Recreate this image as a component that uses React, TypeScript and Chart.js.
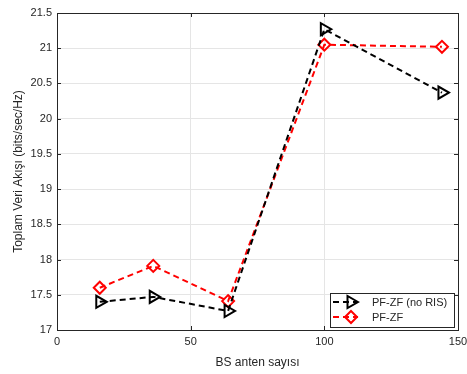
import React, { useEffect, useRef } from "react";
import { Chart, registerables } from "chart.js";

Chart.register(...registerables);

const antennas = [16, 36, 64, 100, 144];
const pfzfNoRis = [17.4, 17.47, 17.27, 21.27, 20.37];
const pfzf = [17.6, 17.91, 17.41, 21.05, 21.02];
const seriesNames = ["PF-ZF (no RIS)", "PF-ZF"];
const yTicks = [17, 17.5, 18, 18.5, 19, 19.5, 20, 20.5, 21, 21.5];
const xTicks = [0, 50, 100, 150];

const FONT = "Liberation Sans, Arial, Helvetica, sans-serif";

const frame = {
  id: "frame",
  beforeDatasetsDraw(chart: any) {
    const { ctx, chartArea: a } = chart;
    ctx.save();
    ctx.strokeStyle = "#262626";
    ctx.lineWidth = 1;
    ctx.strokeRect(Math.round(a.left) + 0.5, Math.round(a.top) + 0.5, Math.round(a.right - a.left), Math.round(a.bottom - a.top));
    const xs = chart.scales.x;
    const ys = chart.scales.y;
    ctx.beginPath();
    xTicks.forEach((v) => {
      const px = Math.round(xs.getPixelForValue(v)) + 0.5;
      ctx.moveTo(px, a.bottom);
      ctx.lineTo(px, a.bottom - 4);
      ctx.moveTo(px, a.top);
      ctx.lineTo(px, a.top + 4);
    });
    yTicks.forEach((v) => {
      const py = Math.round(ys.getPixelForValue(v)) + 0.5;
      ctx.moveTo(a.left, py);
      ctx.lineTo(a.left + 4, py);
      ctx.moveTo(a.right, py);
      ctx.lineTo(a.right - 4, py);
    });
    ctx.stroke();
    ctx.restore();
  },
};

function drawMarker(ctx: CanvasRenderingContext2D, kind: string, x: number, y: number, r: number) {
  ctx.beginPath();
  if (kind === "triangle") {
    ctx.moveTo(x + r, y);
    ctx.lineTo(x - r * 0.5, y - r * 0.866);
    ctx.lineTo(x - r * 0.5, y + r * 0.866);
    ctx.closePath();
  } else {
    ctx.moveTo(x, y - r);
    ctx.lineTo(x + r, y);
    ctx.lineTo(x, y + r);
    ctx.lineTo(x - r, y);
    ctx.closePath();
  }
  ctx.stroke();
}

const legendBox = {
  id: "legendBox",
  afterDraw(chart: any) {
    const { ctx, chartArea: a } = chart;
    const w = 124;
    const h = 34;
    const x0 = a.right - w - 4;
    const y0 = a.bottom - h - 3;
    ctx.save();
    ctx.fillStyle = "#ffffff";
    ctx.fillRect(x0, y0, w, h);
    ctx.strokeStyle = "#262626";
    ctx.lineWidth = 1;
    ctx.strokeRect(Math.round(x0) + 0.5, Math.round(y0) + 0.5, w, h);
    chart.data.datasets.forEach((ds: any, i: number) => {
      const yy = y0 + 9 + i * 15;
      ctx.strokeStyle = ds.borderColor;
      ctx.lineWidth = 2;
      ctx.setLineDash([6, 4]);
      ctx.beginPath();
      ctx.moveTo(x0 + 3, yy);
      ctx.lineTo(x0 + 28, yy);
      ctx.stroke();
      ctx.setLineDash([]);
      ctx.lineWidth = 2;
      ctx.strokeStyle = ds.pointBorderColor;
      drawMarker(ctx, i === 0 ? "triangle" : "diamond", x0 + 21, yy, i === 0 ? 7 : 6);
      ctx.fillStyle = "#262626";
      ctx.font = "11px " + FONT;
      ctx.textBaseline = "middle";
      ctx.textAlign = "left";
      ctx.fillText(ds.label, x0 + 42, yy + 1);
    });
    ctx.restore();
  },
};

export default function App() {
  const ref = useRef<HTMLCanvasElement>(null);
  useEffect(() => {
    document.body.style.margin = "0";
    const canvas = ref.current!;
    const chart = new Chart(canvas, {
      type: "line",
      data: {
        datasets: [
          {
            label: seriesNames[0],
            data: antennas.map((x, i) => ({ x, y: pfzfNoRis[i] })),
            borderColor: "#000000",
            borderWidth: 2,
            borderDash: [6, 4],
            pointStyle: "triangle",
            pointRotation: 90,
            pointRadius: 7,
            pointBorderWidth: 2,
            pointBorderColor: "#000000",
            pointBackgroundColor: "rgba(0,0,0,0)",
            fill: false,
          },
          {
            label: seriesNames[1],
            data: antennas.map((x, i) => ({ x, y: pfzf[i] })),
            borderColor: "#ff0000",
            borderWidth: 2,
            borderDash: [6, 4],
            pointStyle: "rectRot",
            pointRadius: 6,
            pointBorderWidth: 2,
            pointBorderColor: "#ff0000",
            pointBackgroundColor: "rgba(0,0,0,0)",
            fill: false,
          },
        ],
      },
      options: {
        responsive: false,
        animation: false,
        layout: { padding: { top: 13, right: 9, left: 0, bottom: 0 } },
        plugins: { legend: { display: false }, tooltip: { enabled: false } },
        scales: {
          x: {
            type: "linear",
            min: 0,
            max: 150,
            afterBuildTicks: (s: any) => {
              s.ticks = xTicks.map((v) => ({ value: v }));
            },
            afterFit: (s: any) => {
              s.height = 44;
              s.paddingRight = 0;
              s.paddingLeft = 0;
            },
            grid: { color: "#e5e5e5", drawTicks: false },
            border: { display: false },
            ticks: { color: "#262626", font: { family: FONT, size: 11 }, padding: 5, callback: (v: any) => String(v) },
            title: { display: true, text: "BS anten sayısı", color: "#262626", font: { family: FONT, size: 12 }, padding: { top: 3 } },
          },
          y: {
            type: "linear",
            min: 17,
            max: 21.5,
            afterBuildTicks: (s: any) => {
              s.ticks = yTicks.map((v) => ({ value: v }));
            },
            afterFit: (s: any) => {
              s.width = 57;
              s.paddingTop = 0;
              s.paddingBottom = 0;
            },
            grid: { color: "#e5e5e5", drawTicks: false },
            border: { display: false },
            ticks: { color: "#262626", font: { family: FONT, size: 11 }, padding: 5, callback: (v: any) => String(v) },
            title: { display: true, text: "Toplam Veri Akışı (bits/sec/Hz)", color: "#262626", font: { family: FONT, size: 12 }, padding: { top: 11, bottom: 2 } },
          },
        },
      },
      plugins: [frame, legendBox],
    } as any);
    return () => chart.destroy();
  }, []);
  return (
    <div style={{ width: 467, height: 374 }}>
      <canvas ref={ref} width={467} height={374} />
    </div>
  );
}
